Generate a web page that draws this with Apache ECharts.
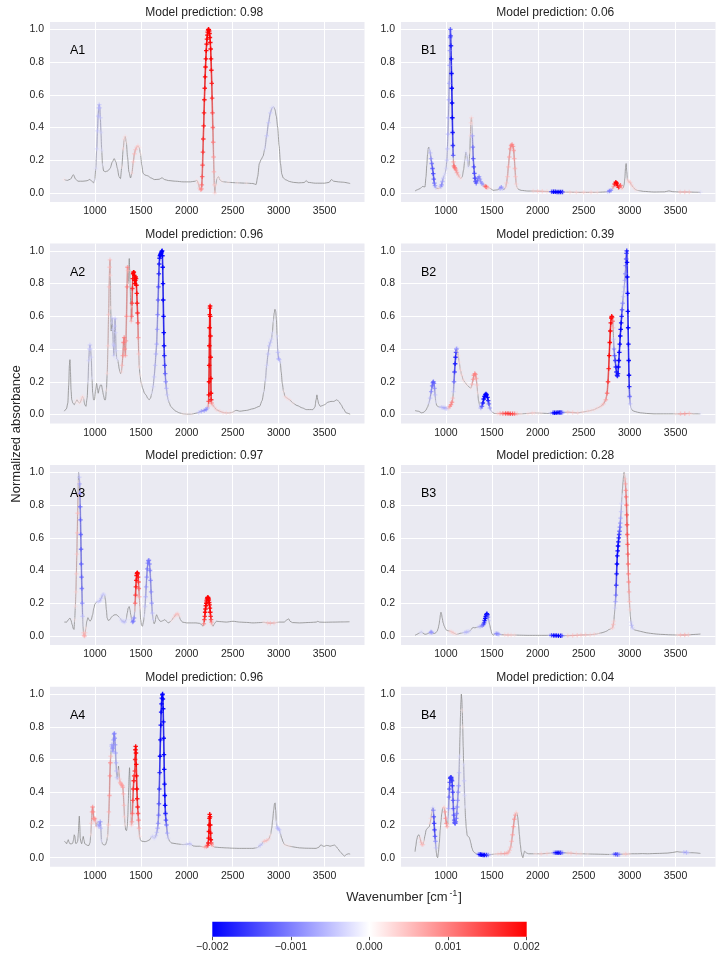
<!DOCTYPE html>
<html>
<head>
<meta charset="utf-8">
<script src="https://cdn.jsdelivr.net/npm/echarts@6/dist/echarts.min.js"></script>
<style>
  html, body { margin: 0; padding: 0; background: #fff; }
  #chart-container { width: 722px; height: 959px; }
</style>
</head>
<body>
<div id="chart-container"></div>
<script>
var dom = document.getElementById('chart-container');
var myChart = echarts.init(dom, null, { renderer: 'canvas' });

// panel names and model predictions, in plot order (A1, B1, A2, B2, ...)
const panelNames = ['A1', 'B1', 'A2', 'B2', 'A3', 'B3', 'A4', 'B4'];
const predictions = ['0.98', '0.06', '0.96', '0.39', '0.97', '0.28', '0.96', '0.04'];

// tick labels
const xTicks = [1000, 1500, 2000, 2500, 3000, 3500];
const yTicks = [0, 0.2, 0.4, 0.6, 0.8, 1.0];
const cbarTicks = [-0.002, -0.001, 0, 0.001, 0.002];

// spectra: [wavenumber, normalized absorbance, attribution (x 1e-3)]
const specA1 = [
[667,0.082,0.2],[700,0.077,0.1],[735,0.085,0],[765,0.112,0],[790,0.085,0],[815,0.072,0],[870,0.072,0],[915,0.075,0],[945,0.083,0],[970,0.07,0],[985,0.062,0],
[998,0.08,-0.2],[1010,0.15,-0.3],[1020,0.27,-0.4],[1028,0.38,-0.5],[1035,0.47,-0.6],[1041,0.52,-0.6],[1047,0.54,-0.6],[1053,0.52,-0.6],[1059,0.46,-0.5],[1066,0.37,-0.4],[1074,0.26,-0.3],[1083,0.17,-0.2],[1095,0.135,0],
[1112,0.13,0],[1140,0.135,0],[1165,0.15,0],[1190,0.19,0],[1210,0.21,0.1],[1228,0.19,0],[1245,0.15,0],[1262,0.1,0],[1278,0.088,0.1],[1293,0.16,0.2],[1308,0.27,0.3],[1320,0.33,0.3],[1330,0.345,0.3],[1342,0.31,0.2],[1355,0.22,0.1],[1370,0.13,0],[1388,0.092,0],
[1403,0.12,0.3],[1418,0.19,0.5],[1430,0.24,0.6],[1442,0.265,0.6],[1455,0.28,0.5],[1468,0.288,0.4],[1482,0.278,0.3],[1496,0.24,0.2],[1510,0.17,0.1],[1525,0.12,0],[1545,0.11,0],[1575,0.105,0],[1610,0.092,0],[1650,0.082,0],[1700,0.084,0],[1730,0.093,0],[1760,0.082,0],[1800,0.076,0],[1880,0.072,0],[1960,0.068,0],[2040,0.068,0],[2090,0.072,0],[2110,0.078,0.2],[2125,0.06,0.4],[2140,0.03,0.6],[2152,0.02,0.8],
[2160,0.025,1],[2164,0.05,1.2],[2168,0.1,1.4],[2172,0.17,1.5],[2176,0.25,1.6],[2180,0.33,1.7],[2184,0.41,1.8],[2188,0.49,1.8],[2192,0.57,1.9],[2196,0.64,1.9],[2200,0.71,2],[2204,0.77,2],[2208,0.82,2],[2212,0.87,2],[2216,0.91,2],[2220,0.94,2],[2224,0.965,2],[2228,0.983,2],[2232,0.995,2],[2236,1.0,2],[2240,0.998,2],[2244,0.99,2],[2248,0.975,2],[2252,0.95,2],[2256,0.92,2],[2260,0.88,2],[2264,0.82,2],[2268,0.75,1.9],[2272,0.67,1.8],[2276,0.58,1.7],[2280,0.49,1.5],[2284,0.4,1.3],[2288,0.31,1.1],[2292,0.22,0.9],[2296,0.13,0.7],[2300,0.05,0.5],[2305,0.0,0.4],
[2315,0.05,0.3],[2330,0.09,0.2],[2345,0.1,0.2],[2360,0.08,0.2],[2385,0.07,0.2],[2450,0.065,0.2],[2550,0.062,0.2],[2650,0.06,0.2],[2720,0.058,0.1],[2755,0.052,0],[2772,0.1,0],[2790,0.18,0],[2810,0.205,0],[2830,0.225,-0.1],[2850,0.27,-0.3],[2870,0.35,-0.5],[2890,0.43,-0.5],[2910,0.49,-0.5],[2928,0.52,-0.4],[2945,0.527,-0.2],[2960,0.51,0],[2975,0.47,0],[2990,0.4,0],[3005,0.29,0],[3020,0.18,0],[3035,0.115,0],[3050,0.092,0],[3080,0.08,0.1],[3120,0.07,0.1],[3160,0.065,0.1],[3220,0.062,0],[3280,0.064,0],[3300,0.076,0],[3320,0.065,0],[3400,0.06,0],[3500,0.06,0],[3550,0.065,0],[3575,0.082,0.1],[3600,0.072,0],[3650,0.068,0],[3700,0.066,0],[3779,0.058,0]
];
const specB1 = [
[664,0.012,0],[690,0.02,0],[718,0.027,0],[746,0.04,0],[772,0.037,0],[783,0.098,0],[792,0.17,0],[800,0.235,0],[808,0.275,0],[814,0.28,0],[822,0.265,-0.3],[830,0.245,-0.6],[838,0.21,-0.9],[846,0.18,-1.2],[854,0.15,-1.4],[862,0.118,-1.5],[868,0.085,-1.4],[874,0.06,-1.2],[881,0.045,-1],[890,0.033,-0.5],[899,0.028,0],[915,0.027,0.3],[935,0.03,0.2],[945,0.04,-0.8],[953,0.05,-1],[962,0.07,-0.8],[971,0.09,-0.5],[982,0.108,-0.3],
[992,0.12,-0.3],[1002,0.15,-0.4],[1010,0.2,-0.5],[1016,0.27,-0.6],[1022,0.36,-0.7],[1027,0.46,-0.7],[1032,0.57,-0.8],[1036,0.67,-0.8],[1040,0.78,-0.9],[1043,0.87,-1],[1046,0.95,-1.2],[1049,1.0,-1.4],[1052,0.96,-1.6],[1055,0.9,-1.8],[1058,0.82,-1.9],[1061,0.73,-2],[1064,0.64,-2],[1067,0.55,-2],[1070,0.46,-2],[1073,0.37,-1.9],[1076,0.29,-1.7],[1079,0.23,-1.4],[1082,0.19,0.8],[1088,0.165,1.2],[1095,0.155,1.2],[1102,0.15,1],[1110,0.14,0.9],[1120,0.125,0.8],[1134,0.11,0.6],[1150,0.095,0.4],[1163,0.088,0.2],
[1178,0.1,0],[1192,0.14,0],[1205,0.2,-0.2],[1217,0.25,-0.3],[1228,0.23,-0.3],[1237,0.2,-0.4],[1245,0.16,-0.3],[1252,0.17,0],[1260,0.25,0.2],[1266,0.35,0.3],[1272,0.43,0.4],[1278,0.46,0.4],[1283,0.42,0.2],[1288,0.35,-0.8],[1293,0.28,-1.2],[1298,0.21,-1.4],[1304,0.16,-1.5],[1310,0.12,-1.5],[1316,0.09,-1.5],[1322,0.07,-1.4],[1330,0.06,-1.3],[1340,0.075,-1.2],[1350,0.09,-1.1],[1361,0.1,-1],[1370,0.085,-0.9],[1380,0.068,-0.9],[1392,0.058,-0.9],[1405,0.05,-0.8],[1420,0.045,0.6],[1432,0.04,1.2],[1441,0.037,1.3],[1455,0.033,0.6],[1477,0.03,0.2],[1500,0.022,0],[1513,0.016,0],[1540,0.018,0],[1567,0.02,0],[1590,0.028,-0.8],[1603,0.035,-1],[1615,0.028,-0.6],[1632,0.02,0],[1650,0.035,0.3],[1660,0.06,0.5],[1670,0.1,0.6],[1680,0.16,0.7],[1690,0.22,0.8],[1700,0.27,0.9],[1710,0.29,1],[1720,0.297,1],[1730,0.285,1],[1738,0.26,0.9],[1745,0.21,0.8],[1752,0.15,0.7],[1758,0.1,0.6],[1765,0.055,0.4],[1775,0.033,0.2],[1790,0.022,0],[1820,0.016,0],[1892,0.012,0],[1950,0.012,0.4],[2000,0.011,0.5],[2050,0.01,0.5],[2100,0.009,0.4],[2130,0.008,0],[2150,0.008,-1.5],[2170,0.007,-2],[2190,0.007,-2],[2210,0.006,-2],[2230,0.006,-2],[2250,0.006,-2],[2270,0.006,-1.8],[2290,0.005,0.2],[2350,0.005,0.4],[2420,0.004,0.4],[2500,0.004,0.4],[2580,0.004,0.4],[2650,0.004,0.3],[2720,0.006,0],[2760,0.008,-0.5],[2780,0.012,-1.2],[2796,0.016,-1],[2812,0.025,0],[2825,0.04,0.8],[2838,0.055,1.8],[2850,0.066,2],[2860,0.06,2],[2870,0.045,2],[2880,0.035,1.8],[2890,0.04,1.6],[2900,0.047,1.4],[2910,0.035,0.8],[2922,0.027,0.3],[2932,0.035,0],[2940,0.05,0],[2948,0.09,0],[2955,0.15,0],[2962,0.18,0],[2969,0.13,0],[2976,0.08,0.3],[2990,0.07,0.4],[3005,0.065,0.5],[3020,0.05,0.4],[3040,0.035,0.3],[3060,0.022,0.3],[3085,0.016,0.2],[3150,0.01,0],[3265,0.006,0],[3380,0.007,0],[3428,0.013,0],[3470,0.008,0],[3550,0.006,0.5],[3600,0.006,0.6],[3650,0.006,0.5],[3700,0.005,0],[3771,0.004,-0.3]
];
const specA2 = [
[667,0.02,0],[690,0.035,0],[705,0.07,0],[715,0.18,0],[722,0.3,0],[728,0.335,0],[734,0.26,0],[740,0.15,0],[748,0.09,0],[760,0.07,0],[775,0.06,0],[790,0.075,0.2],[805,0.09,0.2],[820,0.075,0.2],[837,0.07,0.2],[848,0.085,0.3],[858,0.1,0.3],[866,0.11,0.3],[875,0.1,0.2],[890,0.06,0.1],[902,0.05,0],[915,0.1,0],[925,0.2,-0.2],[933,0.33,-0.4],[940,0.4,-0.5],[946,0.425,-0.5],[952,0.4,-0.4],[960,0.35,-0.4],[968,0.22,-0.2],[976,0.13,0],[985,0.09,0],[995,0.09,0],[1008,0.15,0],[1018,0.19,0],[1028,0.16,0],[1036,0.13,0],[1048,0.16,0],[1060,0.18,0],[1072,0.18,0],[1082,0.15,0],[1092,0.12,0],[1105,0.09,0],[1115,0.09,0],[1125,0.15,0.2],[1134,0.25,0.3],[1142,0.42,0.4],[1149,0.61,0.5],[1155,0.78,0.6],[1160,0.9,0.6],[1164,0.945,0.6],[1168,0.85,0.4],[1172,0.65,0.2],[1177,0.51,0],[1182,0.56,-0.3],[1188,0.59,-0.4],[1194,0.52,-0.4],[1200,0.43,-0.4],[1205,0.36,-0.4],[1210,0.42,-0.5],[1215,0.54,-0.5],[1220,0.585,-0.5],[1225,0.5,-0.4],[1230,0.39,-0.4],[1238,0.34,-0.3],[1248,0.335,-0.2],[1256,0.31,0],[1264,0.28,0],[1272,0.26,0],[1280,0.25,0],[1288,0.26,0.3],[1296,0.3,0.6],[1304,0.36,0.9],[1312,0.44,1.1],[1319,0.47,1.1],[1326,0.4,0.9],[1332,0.36,0.8],[1338,0.45,0.9],[1344,0.6,1],[1350,0.78,1.1],[1355,0.9,1],[1360,0.88,0.6],[1366,0.8,0.2],[1370,0.9,0],[1374,0.953,0],[1379,0.88,0],[1384,0.77,0],[1390,0.66,0.2],[1396,0.57,0.6],[1400,0.6,1.2],[1404,0.68,1.5],[1408,0.77,1.7],[1412,0.83,1.9],[1416,0.86,2],[1420,0.87,2],[1424,0.87,2],[1428,0.85,2],[1432,0.82,2],[1436,0.8,2],[1440,0.82,2],[1444,0.84,2],[1448,0.83,2],[1452,0.79,2],[1456,0.74,1.9],[1460,0.68,1.8],[1464,0.62,1.7],[1468,0.56,1.4],[1472,0.47,1],[1477,0.37,0.5],[1483,0.29,0.3],[1490,0.24,0.2],[1505,0.19,0.2],[1520,0.16,0.1],[1540,0.13,0],[1555,0.12,0],[1575,0.1,0],[1590,0.09,0],[1605,0.1,0],[1620,0.13,-0.2],[1634,0.17,-0.4],[1645,0.23,-0.5],[1656,0.3,-0.6],[1664,0.37,-0.7],[1672,0.43,-0.8],[1678,0.52,-0.9],[1683,0.61,-1.1],[1688,0.7,-1.3],[1692,0.78,-1.5],[1696,0.86,-1.7],[1700,0.92,-1.8],[1704,0.955,-1.9],[1708,0.97,-2],[1712,0.975,-2],[1716,0.98,-2],[1720,0.985,-2],[1724,0.99,-2],[1728,0.997,-2],[1732,1.0,-2],[1735,0.97,-2],[1738,0.9,-2],[1741,0.8,-2],[1744,0.7,-2],[1747,0.6,-2],[1750,0.5,-2],[1753,0.42,-1.9],[1756,0.36,-1.8],[1760,0.3,-1.6],[1765,0.25,-1.3],[1771,0.2,-1],[1778,0.16,-0.7],[1787,0.12,-0.5],[1797,0.09,-0.3],[1810,0.07,0],[1825,0.05,0],[1850,0.035,0],[1880,0.02,0],[1920,0.01,0.1],[1960,0.004,0.2],[2000,0.002,0.2],[2050,0.002,0.2],[2100,0.008,0],[2130,0.012,-0.5],[2160,0.02,-0.8],[2190,0.025,-0.9],[2210,0.03,-1],[2225,0.04,-0.8],[2234,0.05,0.5],[2238,0.08,1.5],[2240,0.12,2],[2242,0.2,2],[2244,0.3,2],[2246,0.42,2],[2248,0.53,2],[2250,0.61,2],[2252,0.65,2],[2254,0.663,2],[2256,0.6,2],[2258,0.48,2],[2260,0.35,2],[2262,0.22,2],[2264,0.13,2],[2266,0.09,1.8],[2270,0.07,1],[2280,0.06,0.5],[2300,0.045,0.4],[2322,0.03,0.4],[2359,0.02,0.4],[2395,0.012,0.4],[2431,0.01,0.4],[2470,0.01,0.3],[2504,0.015,0.2],[2530,0.024,0],[2545,0.025,0],[2576,0.02,0],[2649,0.025,0],[2721,0.035,0],[2793,0.05,0],[2820,0.085,-0.1],[2840,0.14,-0.2],[2856,0.21,-0.3],[2870,0.3,-0.4],[2885,0.37,-0.5],[2898,0.42,-0.5],[2910,0.44,-0.5],[2922,0.46,-0.4],[2932,0.5,-0.3],[2942,0.57,-0.2],[2952,0.62,0],[2960,0.643,0],[2968,0.63,0],[2976,0.58,0],[2984,0.48,-0.3],[2992,0.38,-0.6],[3000,0.34,-0.8],[3008,0.335,-0.6],[3018,0.32,-0.3],[3028,0.26,0],[3040,0.19,0],[3054,0.14,0.2],[3070,0.11,0.3],[3090,0.1,0.3],[3120,0.09,0.3],[3156,0.07,0.2],[3200,0.055,0.1],[3260,0.04,0],[3301,0.03,0],[3373,0.03,0],[3395,0.045,0],[3408,0.09,0],[3417,0.12,0],[3426,0.09,0],[3436,0.065,0],[3453,0.05,0],[3480,0.055,0],[3500,0.06,0],[3536,0.075,0],[3570,0.08,0],[3600,0.08,0],[3634,0.09,0],[3655,0.08,0],[3680,0.06,0],[3705,0.035,0],[3735,0.01,0],[3779,0.002,0]
];
const specB2 = [
[664,0.024,0],[700,0.02,0],[736,0.01,0],[760,0.014,0],[780,0.025,0],[800,0.045,0],[815,0.07,-0.3],[828,0.1,-0.6],[840,0.14,-1],[850,0.175,-1.2],[858,0.195,-1.3],[864,0.2,-1.3],[870,0.19,-1.2],[876,0.16,-1],[882,0.12,-0.6],[890,0.075,-0.2],[900,0.055,0],[915,0.048,0],[935,0.045,-0.3],[953,0.045,-0.5],[970,0.042,-0.6],[989,0.04,-0.7],[1005,0.037,-0.6],[1018,0.036,-0.3],[1030,0.04,0.5],[1043,0.05,0.9],[1055,0.06,1],[1066,0.075,1],[1075,0.1,0.6],[1082,0.14,-0.5],[1088,0.2,-1.2],[1094,0.26,-1.6],[1100,0.31,-1.8],[1105,0.35,-1.8],[1110,0.38,-1.6],[1115,0.4,-1.2],[1120,0.405,-0.5],[1127,0.385,0.2],[1134,0.36,0.3],[1145,0.32,0.3],[1158,0.27,0.3],[1172,0.24,0.3],[1190,0.21,0.3],[1210,0.195,0.2],[1230,0.18,0.2],[1250,0.17,0.1],[1271,0.16,0.2],[1285,0.185,0.6],[1296,0.215,0.9],[1305,0.24,1],[1314,0.25,1],[1322,0.245,1],[1330,0.22,0.8],[1338,0.18,0.5],[1346,0.13,0.2],[1355,0.085,0],[1368,0.055,-0.3],[1380,0.04,-0.8],[1392,0.05,-1.4],[1402,0.07,-1.8],[1412,0.095,-2],[1420,0.11,-2],[1428,0.12,-2],[1436,0.125,-2],[1444,0.12,-2],[1452,0.105,-2],[1460,0.085,-1.8],[1468,0.065,-1.4],[1478,0.04,-0.8],[1495,0.02,-0.2],[1515,0.01,0],[1531,0.006,0],[1560,0.006,0.4],[1590,0.006,0.8],[1620,0.006,1.2],[1650,0.006,1.5],[1676,0.006,1.6],[1700,0.005,1.6],[1725,0.005,1.5],[1748,0.004,1.2],[1775,0.004,0.6],[1820,0.004,0.2],[1892,0.006,0.3],[1940,0.009,0.4],[1965,0.01,0.3],[2000,0.009,0.2],[2037,0.008,0.2],[2080,0.007,0.1],[2109,0.006,0],[2140,0.008,-0.5],[2165,0.01,-1.5],[2181,0.01,-2],[2200,0.011,-2],[2220,0.012,-2],[2240,0.012,-2],[2254,0.012,-1.8],[2270,0.012,-1],[2290,0.013,0],[2326,0.014,0.5],[2380,0.012,0.5],[2434,0.01,0.4],[2490,0.015,0.3],[2543,0.02,0.3],[2580,0.025,0.3],[2615,0.03,0.3],[2650,0.04,0.3],[2687,0.05,0.4],[2715,0.065,0.6],[2741,0.09,0.8],[2755,0.13,1.2],[2765,0.2,1.6],[2772,0.28,1.8],[2778,0.36,2],[2784,0.44,2],[2790,0.51,2],[2795,0.56,2],[2800,0.59,2],[2805,0.6,2],[2810,0.595,1.8],[2815,0.57,1.3],[2820,0.53,0.6],[2825,0.46,-0.5],[2830,0.4,-1],[2836,0.36,-1.4],[2843,0.33,-1.6],[2850,0.29,-1.8],[2857,0.26,-1.8],[2863,0.24,-1.8],[2868,0.235,-1.8],[2873,0.25,-1.9],[2878,0.29,-2],[2883,0.33,-2],[2888,0.38,-2],[2893,0.43,-2],[2898,0.48,-2],[2903,0.52,-2],[2908,0.56,-2],[2913,0.6,-1.8],[2918,0.64,-1.4],[2924,0.68,-1],[2930,0.72,-0.6],[2936,0.75,-0.5],[2942,0.78,-0.6],[2948,0.82,-0.8],[2953,0.86,-1],[2958,0.91,-1.2],[2962,0.95,-1.4],[2966,0.985,-1.6],[2969,1.0,-1.8],[2972,0.93,-2],[2975,0.84,-2],[2978,0.74,-2],[2981,0.63,-2],[2984,0.53,-2],[2987,0.43,-2],[2990,0.33,-2],[2993,0.24,-2],[2996,0.17,-1.8],[3000,0.11,-1.3],[3006,0.065,-0.6],[3014,0.04,-0.2],[3030,0.025,0],[3048,0.02,0],[3085,0.014,0],[3121,0.01,0],[3200,0.006,0],[3265,0.004,0],[3400,0.004,0],[3500,0.004,0.2],[3554,0.004,0.7],[3600,0.005,0.8],[3650,0.006,0.6],[3700,0.004,0],[3771,0.004,-0.2]
];
const specA3 = [
[667,0.085,0],[692,0.085,0],[712,0.1,0],[728,0.11,0],[740,0.095,0],[752,0.07,0],[765,0.045,0],[772,0.04,0],[780,0.1,0.2],[787,0.18,0.3],[793,0.27,0.4],[798,0.38,0.5],[803,0.5,0.5],[808,0.63,0.6],[812,0.75,0.6],[816,0.86,0.4],[819,0.94,0.2],[822,1.0,0],[826,0.99,-0.2],[830,0.97,-0.5],[834,0.93,-0.8],[837,0.87,-1],[840,0.79,-1.2],[843,0.71,-1.3],[846,0.62,-1.3],[849,0.53,-1.3],[852,0.44,-1.3],[855,0.36,-1.3],[858,0.29,-1.2],[862,0.2,-1],[866,0.12,-0.6],[870,0.06,0],[876,0.02,0.5],[882,0.003,0.7],[888,0.0,0.7],[894,0.02,0.5],[902,0.05,0.2],[912,0.09,0],[924,0.112,0],[935,0.1,0],[946,0.09,0],[960,0.1,0],[975,0.13,0],[988,0.17,0],[1000,0.195,0],[1012,0.205,0],[1025,0.21,-0.3],[1040,0.21,-0.4],[1054,0.215,-0.5],[1068,0.23,-0.5],[1083,0.25,-0.5],[1095,0.255,-0.4],[1105,0.25,-0.3],[1115,0.22,0],[1125,0.16,0],[1133,0.11,0],[1145,0.095,0],[1163,0.1,0],[1180,0.115,0],[1199,0.125,0],[1217,0.13,0],[1235,0.13,0],[1255,0.12,0],[1272,0.11,-0.2],[1290,0.095,-0.4],[1308,0.088,-0.5],[1325,0.085,-0.5],[1340,0.1,-0.3],[1352,0.14,0],[1362,0.17,0],[1373,0.18,0],[1382,0.16,0],[1390,0.13,0],[1400,0.1,-0.4],[1410,0.085,-1],[1418,0.09,-1.1],[1426,0.11,-1],[1434,0.15,0],[1438,0.2,1.2],[1442,0.25,1.6],[1446,0.3,1.8],[1450,0.34,1.9],[1454,0.37,2],[1458,0.383,2],[1462,0.387,2],[1466,0.38,1.9],[1470,0.36,1.8],[1474,0.33,1.6],[1478,0.29,1.3],[1483,0.24,0.8],[1490,0.17,0.2],[1498,0.1,0],[1508,0.065,0],[1518,0.06,0],[1528,0.085,0],[1538,0.12,-0.2],[1546,0.18,-0.5],[1552,0.24,-0.7],[1558,0.3,-0.9],[1564,0.36,-1],[1570,0.41,-1.1],[1576,0.445,-1.1],[1582,0.46,-1.1],[1588,0.463,-1.1],[1594,0.44,-1.1],[1600,0.4,-1.1],[1606,0.34,-1.1],[1612,0.27,-1],[1618,0.2,-0.9],[1625,0.14,-0.6],[1634,0.1,-0.3],[1645,0.075,0],[1655,0.085,0],[1665,0.12,0],[1672,0.13,0],[1680,0.12,0],[1690,0.105,0],[1710,0.09,0],[1725,0.09,0],[1745,0.095,0],[1761,0.1,0],[1780,0.09,0],[1797,0.08,0],[1815,0.085,0],[1833,0.095,0.2],[1860,0.115,0.4],[1880,0.13,0.5],[1895,0.135,0.5],[1906,0.135,0.4],[1918,0.12,0.3],[1930,0.1,0.1],[1953,0.085,0],[2000,0.08,0],[2050,0.08,0],[2100,0.08,0],[2141,0.077,0],[2160,0.07,0],[2177,0.06,0],[2186,0.075,1],[2192,0.1,1.6],[2196,0.12,1.8],[2200,0.145,2],[2204,0.165,2],[2208,0.185,2],[2212,0.2,2],[2216,0.215,2],[2220,0.225,2],[2224,0.232,2],[2228,0.235,2],[2232,0.235,2],[2236,0.23,2],[2240,0.22,2],[2244,0.205,2],[2248,0.19,2],[2252,0.17,2],[2256,0.145,2],[2260,0.12,1.8],[2264,0.1,1.5],[2268,0.085,1],[2275,0.07,0.4],[2286,0.06,0],[2300,0.075,0],[2322,0.09,0],[2360,0.088,0],[2431,0.085,0],[2504,0.09,0],[2576,0.085,0],[2650,0.083,0],[2721,0.08,0],[2800,0.082,0.1],[2840,0.084,0.2],[2880,0.08,0.5],[2910,0.078,0.6],[2950,0.08,0.5],[2980,0.083,0.2],[3011,0.085,0],[3060,0.085,0],[3090,0.098,0],[3109,0.105,0],[3125,0.09,0],[3150,0.082,0],[3228,0.08,0],[3350,0.083,0],[3410,0.085,0],[3427,0.09,0],[3445,0.085,0],[3500,0.084,0],[3590,0.085,0],[3700,0.086,0],[3772,0.087,0]
];
const specB3 = [
[664,0.004,0],[685,0.01,0],[705,0.017,0],[722,0.022,-0.3],[736,0.024,-0.3],[750,0.018,0],[772,0.01,0],[790,0.012,0],[808,0.016,0],[825,0.02,-0.5],[838,0.024,-1],[848,0.022,-0.8],[860,0.016,0],[874,0.015,0],[890,0.02,0],[905,0.03,0],[915,0.045,0],[925,0.07,0],[933,0.1,0],[940,0.13,0],[946,0.145,0],[952,0.135,0],[960,0.11,0],[970,0.08,0],[982,0.06,0],[995,0.045,0],[1007,0.035,0],[1025,0.032,0],[1043,0.03,0.3],[1060,0.026,0.4],[1079,0.02,0.4],[1098,0.014,0.3],[1116,0.01,0.2],[1135,0.012,0],[1152,0.016,0],[1170,0.018,0],[1188,0.02,-0.2],[1206,0.022,-0.5],[1224,0.024,-0.6],[1242,0.027,-0.5],[1260,0.03,-0.3],[1275,0.04,0],[1289,0.05,0],[1303,0.052,0],[1314,0.05,0],[1330,0.052,0],[1350,0.055,-0.3],[1372,0.058,-0.7],[1394,0.062,-1],[1408,0.07,-1.3],[1416,0.08,-1.6],[1422,0.095,-1.8],[1428,0.108,-2],[1434,0.12,-2],[1440,0.13,-2],[1446,0.136,-2],[1452,0.13,-1.8],[1458,0.115,-1.2],[1466,0.095,-0.5],[1476,0.07,0],[1488,0.04,0],[1500,0.015,0],[1513,0.004,0],[1525,0.01,0],[1538,0.016,-0.5],[1552,0.014,-1],[1567,0.012,-1],[1580,0.01,-0.6],[1603,0.008,0],[1640,0.007,0.4],[1676,0.006,0.5],[1710,0.006,0.4],[1748,0.006,0.3],[1800,0.005,0.1],[1892,0.004,0],[1960,0.004,0],[2037,0.004,0],[2100,0.004,0],[2130,0.004,-0.5],[2150,0.004,-1.5],[2175,0.003,-2],[2200,0.003,-2],[2225,0.002,-2],[2250,0.002,-2],[2265,0.002,-1.2],[2290,0.002,0],[2326,0.002,0.5],[2380,0.003,0.6],[2430,0.004,0.6],[2471,0.006,0.5],[2520,0.007,0.5],[2570,0.008,0.4],[2615,0.01,0.4],[2660,0.015,0.2],[2700,0.02,0],[2723,0.024,0],[2750,0.03,0],[2777,0.04,0],[2800,0.045,0.2],[2814,0.05,0.5],[2822,0.07,0.6],[2828,0.09,0.4],[2834,0.13,0],[2840,0.17,-0.4],[2846,0.21,-0.8],[2850,0.25,-1.2],[2854,0.31,-1.6],[2858,0.38,-1.9],[2862,0.44,-2],[2866,0.49,-2],[2870,0.52,-2],[2874,0.55,-2],[2878,0.575,-1.9],[2882,0.6,-1.8],[2886,0.62,-1.6],[2890,0.64,-1.4],[2894,0.665,-1.2],[2898,0.69,-1],[2902,0.72,-0.8],[2907,0.76,-0.6],[2912,0.81,-0.4],[2917,0.86,-0.2],[2922,0.9,0],[2928,0.94,0],[2934,0.975,0],[2940,1.0,0],[2945,0.985,0.2],[2950,0.96,0.5],[2955,0.93,0.8],[2959,0.89,1],[2963,0.85,1.2],[2966,0.8,1.3],[2969,0.74,1.4],[2972,0.68,1.4],[2975,0.62,1.4],[2978,0.56,1.4],[2981,0.5,1.3],[2984,0.44,1.2],[2987,0.38,1.1],[2990,0.33,1],[2994,0.27,0.8],[2998,0.21,0.6],[3003,0.16,0.4],[3008,0.12,0],[3015,0.085,-0.4],[3022,0.065,-0.6],[3030,0.05,-0.5],[3040,0.042,-0.2],[3056,0.037,0],[3090,0.032,0],[3121,0.028,0],[3180,0.02,0],[3229,0.016,0],[3290,0.012,0],[3337,0.01,0],[3450,0.007,0],[3520,0.006,0.3],[3554,0.006,0.6],[3600,0.006,0.7],[3640,0.007,0.5],[3663,0.008,0],[3720,0.01,0],[3771,0.012,0]
];
const specA4 = [
[667,0.1,0],[680,0.095,0],[692,0.085,0],[702,0.1,0],[710,0.11,0],[718,0.095,0],[728,0.085,0],[745,0.085,0],[757,0.088,0],[768,0.11,0],[775,0.14,0],[782,0.13,0],[790,0.088,0],[800,0.088,0],[812,0.1,0],[820,0.15,0],[826,0.22,0],[830,0.254,0],[835,0.2,0],[840,0.12,0],[848,0.095,0],[856,0.085,0],[865,0.11,0],[873,0.13,0],[880,0.11,0],[890,0.085,0],[905,0.08,0],[920,0.075,0],[935,0.075,0],[946,0.09,0],[955,0.14,0.2],[962,0.21,0.5],[968,0.28,0.8],[975,0.31,1],[980,0.28,1],[986,0.24,1],[993,0.235,0.9],[1000,0.24,0.8],[1007,0.22,0.6],[1014,0.19,0.3],[1022,0.21,0],[1029,0.22,-0.3],[1036,0.2,-0.5],[1043,0.19,-0.6],[1050,0.2,-0.8],[1058,0.22,-0.9],[1064,0.18,-0.6],[1072,0.1,-0.2],[1082,0.085,0],[1091,0.08,0],[1105,0.078,0],[1116,0.08,0],[1128,0.1,0],[1138,0.13,0.2],[1146,0.2,0.5],[1152,0.28,0.7],[1158,0.38,0.9],[1163,0.5,1],[1168,0.58,1],[1172,0.62,0.6],[1177,0.66,-0.3],[1181,0.68,-0.6],[1185,0.69,-0.8],[1190,0.67,-0.8],[1195,0.65,-0.8],[1200,0.67,-0.9],[1204,0.72,-1],[1208,0.755,-1],[1212,0.76,-1],[1216,0.73,-1],[1220,0.69,-0.9],[1225,0.64,-0.8],[1230,0.58,-0.7],[1235,0.53,-0.6],[1240,0.49,-0.5],[1246,0.48,-0.3],[1252,0.53,0],[1257,0.56,0],[1262,0.53,0.3],[1268,0.48,0.5],[1274,0.46,0.6],[1280,0.455,0.7],[1286,0.45,0.7],[1292,0.445,0.8],[1298,0.44,0.8],[1304,0.43,0.8],[1310,0.39,0.7],[1316,0.32,0.6],[1322,0.25,0.4],[1328,0.2,0.2],[1335,0.17,0],[1344,0.165,0],[1352,0.19,0],[1358,0.25,0],[1363,0.33,0],[1368,0.43,0],[1372,0.5,0],[1377,0.55,0],[1382,0.48,0],[1387,0.36,0],[1392,0.26,0.2],[1398,0.2,0.5],[1403,0.22,0.8],[1408,0.27,1.2],[1413,0.35,1.5],[1418,0.42,1.7],[1423,0.47,1.8],[1427,0.5,1.6],[1431,0.5,1.4],[1435,0.53,1.6],[1438,0.6,1.8],[1441,0.66,2],[1444,0.68,2],[1447,0.64,2],[1450,0.57,2],[1453,0.5,2],[1457,0.42,2],[1461,0.36,1.9],[1465,0.31,1.8],[1470,0.27,1.5],[1475,0.23,1.2],[1480,0.18,0.7],[1486,0.13,0.3],[1495,0.11,0],[1510,0.1,0],[1525,0.1,0],[1545,0.098,0],[1562,0.1,0],[1580,0.105,0],[1598,0.11,0],[1612,0.125,-0.2],[1627,0.13,-0.4],[1640,0.12,-0.3],[1652,0.12,-0.3],[1664,0.135,-0.5],[1674,0.155,-0.6],[1682,0.18,-0.8],[1688,0.21,-1],[1693,0.26,-1.2],[1697,0.33,-1.4],[1701,0.42,-1.6],[1705,0.52,-1.8],[1709,0.62,-2],[1713,0.72,-2],[1717,0.81,-2],[1721,0.89,-2],[1725,0.94,-2],[1729,0.975,-2],[1733,0.995,-2],[1737,1.0,-2],[1740,0.97,-2],[1743,0.91,-2],[1746,0.83,-2],[1749,0.73,-2],[1752,0.63,-2],[1755,0.54,-2],[1758,0.45,-2],[1761,0.38,-2],[1764,0.32,-2],[1768,0.27,-1.8],[1773,0.23,-1.5],[1779,0.2,-1.2],[1788,0.15,-0.8],[1797,0.12,-0.4],[1815,0.1,0],[1833,0.09,0],[1888,0.085,0],[1930,0.082,0],[1960,0.08,-0.2],[2000,0.082,-0.4],[2032,0.085,-0.5],[2050,0.08,-0.3],[2069,0.072,0],[2100,0.07,0],[2141,0.07,0],[2170,0.067,0.2],[2195,0.065,0.6],[2215,0.068,1],[2228,0.075,1.5],[2234,0.09,1.8],[2238,0.12,2],[2241,0.16,2],[2244,0.2,2],[2247,0.24,2],[2250,0.265,2],[2253,0.25,2],[2256,0.2,2],[2259,0.15,2],[2262,0.11,2],[2266,0.09,1.6],[2272,0.08,1],[2285,0.07,0.4],[2304,0.065,0],[2360,0.062,0],[2431,0.06,0],[2500,0.058,0],[2576,0.057,0],[2650,0.057,0],[2721,0.057,0],[2770,0.062,-0.2],[2800,0.075,-0.5],[2820,0.085,-0.4],[2835,0.1,0.3],[2848,0.1,0.5],[2870,0.105,0.5],[2895,0.115,0.4],[2912,0.14,0.2],[2925,0.18,0],[2935,0.23,0],[2946,0.29,0],[2955,0.33,0],[2962,0.335,0],[2968,0.29,0],[2975,0.22,-0.2],[2982,0.19,-0.4],[2989,0.18,-0.6],[2998,0.175,-0.6],[3008,0.17,-0.5],[3018,0.15,-0.3],[3033,0.12,0],[3050,0.095,0],[3065,0.08,0.2],[3090,0.075,0.2],[3120,0.07,0.2],[3180,0.064,0],[3228,0.06,0],[3300,0.058,0],[3409,0.057,0],[3440,0.065,0],[3462,0.08,0],[3482,0.07,0],[3500,0.07,0],[3520,0.075,0],[3540,0.074,0],[3560,0.07,0],[3590,0.075,0],[3609,0.077,0],[3627,0.068,0],[3645,0.055,0],[3665,0.04,0],[3681,0.03,0],[3700,0.018,0],[3717,0.01,0],[3740,0.02,0],[3760,0.024,0],[3779,0.022,0]
];
const specB4 = [
[664,0.037,0],[672,0.07,0],[682,0.11,0],[694,0.135,0],[707,0.14,0],[718,0.12,0.3],[729,0.095,0.5],[740,0.08,0.6],[750,0.08,0.5],[760,0.1,0.2],[772,0.135,0],[785,0.17,0],[798,0.18,0],[810,0.185,0],[819,0.19,0],[828,0.21,0.3],[837,0.24,0.4],[846,0.28,0.2],[853,0.3,0],[858,0.305,-0.4],[863,0.29,-1],[868,0.25,-1.4],[872,0.21,-1.6],[876,0.17,-1.6],[881,0.13,-1.4],[886,0.1,-1],[891,0.06,-0.5],[896,0.03,0],[903,0.005,0],[910,0.0,0],[918,0.03,0],[928,0.09,0],[938,0.17,0],[946,0.22,0],[955,0.27,0],[964,0.3,0],[973,0.31,0.2],[982,0.305,0.5],[990,0.28,0.8],[998,0.24,1],[1005,0.21,1],[1012,0.19,0.8],[1018,0.2,0.4],[1024,0.24,-0.3],[1029,0.3,-0.8],[1034,0.37,-1.2],[1038,0.42,-1.4],[1042,0.46,-1.5],[1046,0.485,-1.6],[1050,0.49,-1.6],[1054,0.49,-1.6],[1058,0.49,-1.6],[1062,0.48,-1.6],[1066,0.47,-1.6],[1070,0.44,-1.6],[1074,0.4,-1.5],[1078,0.35,-1.4],[1082,0.3,-1.4],[1086,0.26,-1.4],[1090,0.23,-1.4],[1094,0.215,-1.4],[1098,0.21,-1.4],[1103,0.21,-1.3],[1108,0.22,-1.2],[1113,0.24,-1.2],[1118,0.27,-1.1],[1123,0.31,-1],[1128,0.35,-1],[1133,0.4,-1],[1138,0.44,-0.9],[1143,0.52,-0.6],[1148,0.62,-0.3],[1153,0.74,0],[1158,0.86,0],[1163,0.95,0],[1168,1.0,0],[1173,0.97,0],[1178,0.9,0.2],[1183,0.8,0.2],[1188,0.68,0],[1193,0.57,-0.3],[1198,0.47,-0.5],[1203,0.38,-0.4],[1208,0.31,-0.2],[1214,0.24,0],[1222,0.18,0],[1232,0.135,0],[1243,0.13,0],[1253,0.125,0],[1262,0.11,0],[1271,0.09,0],[1283,0.06,0],[1296,0.04,0],[1314,0.03,0],[1332,0.024,0],[1345,0.022,-0.5],[1360,0.02,-1.5],[1375,0.019,-2],[1390,0.018,-2],[1405,0.017,-2],[1420,0.016,-2],[1441,0.016,-1.8],[1460,0.017,-1.2],[1480,0.019,-0.3],[1500,0.02,0],[1530,0.022,0.2],[1567,0.024,0.4],[1600,0.025,0.6],[1640,0.025,0.7],[1665,0.027,0.7],[1680,0.032,0.6],[1693,0.045,0.6],[1705,0.065,0.6],[1715,0.1,0.7],[1725,0.14,0.8],[1735,0.19,0.9],[1745,0.235,0.9],[1755,0.26,0.8],[1765,0.275,0.5],[1773,0.275,0.2],[1781,0.25,0],[1791,0.2,0],[1800,0.14,0],[1810,0.08,0],[1820,0.035,0],[1830,0.01,0],[1838,0.0,0],[1846,0.02,0],[1856,0.04,0],[1866,0.035,0],[1880,0.028,0],[1900,0.024,0],[1929,0.024,0],[1970,0.024,0.2],[2037,0.024,0.4],[2100,0.026,0.4],[2145,0.028,0.2],[2170,0.03,-0.8],[2190,0.031,-1.6],[2210,0.031,-2],[2230,0.031,-2],[2250,0.03,-1.8],[2270,0.03,-1],[2290,0.03,0],[2330,0.028,0.4],[2362,0.027,0.5],[2420,0.025,0.4],[2471,0.024,0.3],[2540,0.023,0.2],[2615,0.022,0],[2700,0.021,0],[2760,0.02,0],[2800,0.02,-0.2],[2830,0.021,-1],[2850,0.021,-1.6],[2870,0.02,-1.5],[2890,0.02,-0.8],[2904,0.021,0],[2935,0.022,0.3],[2958,0.022,0.5],[2990,0.023,0.3],[3020,0.024,0],[3085,0.024,0],[3140,0.025,0],[3193,0.024,0],[3300,0.026,0],[3409,0.028,0],[3470,0.032,0],[3518,0.037,0],[3540,0.035,0],[3560,0.034,0],[3590,0.033,-0.6],[3619,0.032,-0.8],[3640,0.031,-0.3],[3699,0.03,0],[3771,0.026,0]
];
const spectra = [specA1, specB1, specA2, specB2, specA3, specB3, specA4, specB4];

// layout
const FONT = '"Liberation Sans", Arial, sans-serif';
const TXT = '#262626';
const COL_LEFT = [50, 401];
const ROW_TOP = [22, 243.5, 465, 686.7];
const PLOT_W = 314.5;
const PLOT_H = 180;
const ATTR_MAX = 2; // colour limit, in units of 1e-3
const PLUS = 'path://M3.5 0h3v3.5h3.5v3h-3.5v3.5h-3v-3.5h-3.5v-3h3.5z';

// matplotlib 'bwr' colormap, t in [-1, 1]
function bwr(t) {
  t = Math.max(-1, Math.min(1, t));
  let r, g, b;
  if (t < 0) { r = g = Math.round(255 * (1 + t)); b = 255; }
  else { r = 255; g = b = Math.round(255 * (1 - t)); }
  return 'rgb(' + r + ',' + g + ',' + b + ')';
}

const grids = [], xAxes = [], yAxes = [], series = [], titles = [];

panelNames.forEach((name, i) => {
  const col = i % 2, row = Math.floor(i / 2);
  const left = COL_LEFT[col], top = ROW_TOP[row];
  grids.push({ left: left, top: top, width: PLOT_W, height: PLOT_H, show: true,
    backgroundColor: '#EAEAF2', borderWidth: 0 });
  xAxes.push({
    type: 'value', gridIndex: i, min: 511, max: 3935,
    axisLine: { show: false },
    axisTick: { show: false, customValues: xTicks },
    axisLabel: { customValues: xTicks, formatter: v => String(v), fontSize: 10.5,
      color: TXT, fontFamily: FONT, margin: 4 },
    splitLine: { show: true, lineStyle: { color: '#ffffff', width: 1 } }
  });
  yAxes.push({
    type: 'value', gridIndex: i, min: -0.055, max: 1.045,
    axisLine: { show: false },
    axisTick: { show: false, customValues: yTicks },
    axisLabel: { customValues: yTicks, formatter: v => v.toFixed(1), fontSize: 10.5,
      color: TXT, fontFamily: FONT, margin: 6 },
    splitLine: { show: true, lineStyle: { color: '#ffffff', width: 1 } }
  });
  const spec = spectra[i];
  // grey spectrum line
  series.push({
    type: 'line', xAxisIndex: i, yAxisIndex: i, silent: true,
    data: spec.map(p => [p[0], p[1]]),
    symbol: 'none', smooth: 0.25, smoothMonotone: 'x',
    lineStyle: { color: '#8a8a8a', width: 0.8 }, z: 2
  });
  // tint of the line where attribution is not small (dense markers in the original)
  const segs = [];
  for (let k = 0; k < spec.length - 1; k++) {
    const a = (spec[k][2] + spec[k + 1][2]) / 2;
    if (Math.abs(a) >= 0.3) segs.push([spec[k][0], spec[k][1], spec[k + 1][0], spec[k + 1][1], a]);
  }
  series.push({
    type: 'custom', xAxisIndex: i, yAxisIndex: i, silent: true, z: 3,
    data: segs, encode: { x: [0, 2], y: [1, 3] },
    renderItem: function (params, api) {
      const p0 = api.coord([api.value(0), api.value(1)]);
      const p1 = api.coord([api.value(2), api.value(3)]);
      const t = api.value(4) / ATTR_MAX;
      return { type: 'line', shape: { x1: p0[0], y1: p0[1], x2: p1[0], y2: p1[1] },
        style: { stroke: bwr(t), lineWidth: 1.6, opacity: 0.2 + 0.55 * Math.min(1, Math.abs(t)), lineCap: 'round' } };
    }
  });
  // attribution markers
  series.push({
    type: 'scatter', xAxisIndex: i, yAxisIndex: i, silent: true,
    symbol: PLUS, symbolSize: 4.5, z: 4,
    data: spec.filter(p => Math.abs(p[2]) >= 0.15).map(p => {
      const t = p[2] / ATTR_MAX;
      return { value: [p[0], p[1]],
        itemStyle: { color: bwr(t), opacity: 0.3 + 0.6 * Math.min(1, Math.abs(t)) } };
    })
  });
  titles.push({
    text: 'Model prediction: ' + predictions[i],
    left: left + PLOT_W / 2 - 3, top: top - 9.2, padding: 0,
    textAlign: 'center', textVerticalAlign: 'middle',
    textStyle: { fontSize: 12, fontWeight: 'normal', color: TXT, fontFamily: FONT }
  });
  titles.push({
    text: name, left: left + 20, top: top + 29, padding: 0,
    textAlign: 'left', textVerticalAlign: 'middle',
    textStyle: { fontSize: 12.5, fontWeight: 'normal', color: '#000', fontFamily: FONT }
  });
});

// x axis name
titles.push({
  text: '{n|Wavenumber [cm}{s|-1}{n|]}',
  left: 404, top: 897, padding: 0, textAlign: 'center', textVerticalAlign: 'middle',
  textStyle: { fontWeight: 'normal', rich: {
    n: { fontSize: 13, fontWeight: 'normal', color: TXT, fontFamily: FONT, lineHeight: 16 },
    s: { fontSize: 8.5, fontWeight: 'normal', color: TXT, fontFamily: FONT, lineHeight: 16, verticalAlign: 'top', padding: [0, 1, 0, 2] }
  } }
});

// colorbar
const CB = 8;
grids.push({ left: 212.3, top: 921.7, width: 314.4, height: 15, show: false });
xAxes.push({
  type: 'value', gridIndex: CB, min: -0.002, max: 0.002, interval: 0.001,
  axisLine: { show: false },
  axisTick: { show: true, length: 3.5, lineStyle: { color: TXT, width: 0.8 } },
  axisLabel: { fontSize: 10.5, color: TXT, fontFamily: FONT, margin: 5,
    formatter: v => (v < 0 ? '\u2212' : '') + Math.abs(v).toFixed(3) },
  splitLine: { show: false }
});
yAxes.push({ type: 'value', gridIndex: CB, min: 0, max: 1, show: false });
series.push({
  type: 'custom', xAxisIndex: CB, yAxisIndex: CB, silent: true,
  data: [[cbarTicks[0], cbarTicks[cbarTicks.length - 1]]],
  renderItem: function (params, api) {
    const p0 = api.coord([api.value(0), 1]);
    const p1 = api.coord([api.value(1), 0]);
    return {
      type: 'rect',
      shape: { x: p0[0], y: p0[1], width: p1[0] - p0[0], height: p1[1] - p0[1] },
      style: { fill: new echarts.graphic.LinearGradient(0, 0, 1, 0, [
        { offset: 0, color: '#0000ff' }, { offset: 0.5, color: '#ffffff' }, { offset: 1, color: '#ff0000' }
      ]) }
    };
  }
});

var option = {
  animation: false,
  backgroundColor: '#ffffff',
  textStyle: { fontFamily: FONT },
  title: titles,
  grid: grids,
  xAxis: xAxes,
  yAxis: yAxes,
  series: series,
  graphic: [{
    type: 'text', x: 16, y: 434, rotation: Math.PI / 2,
    style: { text: 'Normalized absorbance', fontSize: 13, fontFamily: FONT, fill: TXT,
      textAlign: 'center', textVerticalAlign: 'middle', align: 'center', verticalAlign: 'middle' }
  }]
};

myChart.setOption(option);
window.addEventListener('resize', myChart.resize);
</script>
</body>
</html>
